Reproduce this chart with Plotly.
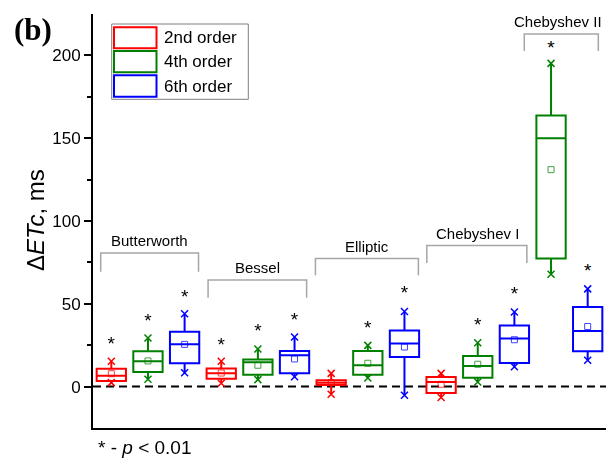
import plotly.graph_objects as go

# ---------------- data ----------------
filters = ["Butterworth", "Bessel", "Elliptic", "Chebyshev I", "Chebyshev II"]
orders = ["2nd order", "4th order", "6th order"]
colors = ["#FF0000", "#008000", "#0000FF"]

# per order, per filter (None = no box)
q1_2 = [3.4, 4.8, 1.0, -3.8, None]
med_2 = [6.6, 8.0, 2.4, 2.8, None]
q3_2 = [10.8, 11.0, 3.8, 5.8, None]
mean_2 = [7.8, 8.2, 2.4, 1.4, None]
min_2 = [2.4, 2.0, -4.6, -6.6, None]
max_2 = [15.3, 15.3, 8.0, 8.0, None]
star_2 = [24.9, 24.3, None, None, None]

q1_4 = [8.8, 7.2, 7.2, 5.4, 77.3]
med_4 = [15.3, 14.7, 12.9, 12.4, 150.0]
q3_4 = [21.3, 16.3, 21.5, 18.5, 163.7]
mean_4 = [15.5, 12.9, 14.1, 13.5, 131.0]
min_4 = [4.4, 4.2, 5.2, 2.8, 67.9]
max_4 = [29.3, 22.7, 24.9, 26.5, 195.2]
star_4 = [38.6, 32.9, 34.9, 36.5, 203.6]

q1_6 = [14.1, 8.0, 17.9, 14.3, 21.3]
med_6 = [25.5, 18.9, 26.1, 29.1, 33.5]
q3_6 = [33.1, 21.5, 33.9, 36.9, 48.0]
mean_6 = [25.5, 16.7, 23.9, 28.3, 36.3]
min_6 = [8.4, 6.0, -5.2, 12.0, 15.9]
max_6 = [44.0, 29.9, 45.4, 45.0, 59.0]
star_6 = [53.6, 39.4, 55.6, 55.0, 69.1]

series = [
    (q1_2, med_2, q3_2, mean_2, min_2, max_2, star_2),
    (q1_4, med_4, q3_4, mean_4, min_4, max_4, star_4),
    (q1_6, med_6, q3_6, mean_6, min_6, max_6, star_6),
]

# bracket annotations
bracket_labels = filters
bracket_x0 = [0.71, 3.64, 6.57, 9.61, 12.27]
bracket_x1 = [3.38, 6.33, 9.38, 12.34, 14.29]
bracket_top = [80.7, 64.3, 77.3, 85.2, 212.9]
bracket_bot = [69.3, 53.6, 67.3, 74.7, 202.6]
label_x = [2.05, 4.99, 7.98, 10.98, 13.2]

# ---------------- positions ----------------
positions = {}
pos = 0
for fi in range(len(filters)):
    for oi in range(len(orders)):
        if series[oi][0][fi] is not None:
            pos += 1
            positions[(oi, fi)] = pos

fig = go.Figure()

star_x, star_y = [], []
for oi, (q1, med, q3, mean, mn, mx, star) in enumerate(series):
    xs, Q1, MED, Q3, LO, HI, MEAN = [], [], [], [], [], [], []
    for fi in range(len(filters)):
        if q1[fi] is None:
            continue
        xs.append(positions[(oi, fi)])
        Q1.append(q1[fi]); MED.append(med[fi]); Q3.append(q3[fi])
        LO.append(mn[fi]); HI.append(mx[fi]); MEAN.append(mean[fi])
        if star[fi] is not None:
            star_x.append(positions[(oi, fi)])
            star_y.append(star[fi])
    c = colors[oi]
    fig.add_trace(go.Box(
        x=xs, q1=Q1, median=MED, q3=Q3, lowerfence=LO, upperfence=HI,
        width=0.8, whiskerwidth=0, line=dict(color=c, width=2),
        fillcolor="rgba(0,0,0,0)", boxpoints=False, name=orders[oi],
        showlegend=False, hoverinfo="skip"))
    fig.add_trace(go.Scatter(
        x=xs, y=MEAN, mode="markers", showlegend=False, hoverinfo="skip",
        marker=dict(symbol="square-open", size=6, color=c, line=dict(width=1, color=c)),
        opacity=0.75))
    fig.add_trace(go.Scatter(
        x=xs + xs, y=LO + HI, mode="markers", showlegend=False, hoverinfo="skip",
        marker=dict(symbol="x-thin", size=7, color=c, line=dict(width=1.5, color=c))))

fig.add_trace(go.Scatter(
    x=star_x, y=star_y, mode="text", text=["*"] * len(star_x),
    textfont=dict(family="Liberation Sans, Arial", size=19, color="black"),
    textposition="middle center", showlegend=False, hoverinfo="skip"))

shapes = []
annotations = []
# zero dashed line
shapes.append(dict(type="line", xref="paper", yref="y", x0=0, x1=1, y0=0, y1=0,
                   line=dict(color="black", width=2, dash="8px,5px"), layer="below"))
# brackets
for lab, x0, x1, t, b, lx in zip(bracket_labels, bracket_x0, bracket_x1,
                                 bracket_top, bracket_bot, label_x):
    shapes.append(dict(type="path", xref="x", yref="y",
                       path=f"M {x0},{b} L {x0},{t} L {x1},{t} L {x1},{b}",
                       line=dict(color="#a6a6a6", width=1.5)))
    annotations.append(dict(x=lx, y=t + 7.5, xref="x", yref="y", text=lab,
                            showarrow=False, yanchor="middle", xanchor="center",
                            font=dict(family="Liberation Sans, Arial", size=15, color="black")))

# pixel->paper helpers
L, R, T, B = 93, 606, 14, 428
def px(x):
    return (x - L) / (R - L)
def py(y):
    return (B - y) / (B - T)

# custom legend
shapes.append(dict(type="rect", xref="paper", yref="paper",
                   x0=px(111.7), x1=px(248.3), y0=py(24), y1=py(99.3),
                   line=dict(color="#7f7f7f", width=1), fillcolor="white"))
rows = [(27.3, 48.3), (51, 72.3), (75.3, 96.7)]
for oi, (ya, yb) in enumerate(rows):
    shapes.append(dict(type="rect", xref="paper", yref="paper",
                       x0=px(114), x1=px(156.5), y0=py(ya), y1=py(yb),
                       line=dict(color=colors[oi], width=2)))
    annotations.append(dict(x=px(162), y=py((ya + yb) / 2), xref="paper", yref="paper",
                            text=orders[oi], showarrow=False, xanchor="left", yanchor="middle",
                            font=dict(family="Liberation Sans, Arial", size=17, color="black")))

# y title
annotations.append(dict(x=px(35), y=py(220), xref="paper", yref="paper",
                        text="Δ<i>ETc</i>, ms", textangle=-90, showarrow=False,
                        xanchor="center", yanchor="middle",
                        font=dict(family="Liberation Sans, Arial", size=24, color="black")))
# panel label
annotations.append(dict(x=px(33), y=py(29), xref="paper", yref="paper",
                        text="<b>(b)</b>", showarrow=False, xanchor="center", yanchor="middle",
                        font=dict(family="Liberation Serif, Times New Roman", size=31, color="black")))
# footnote
annotations.append(dict(x=px(96), y=py(447), xref="paper", yref="paper",
                        text="* - <i>p</i> &lt; 0.01", showarrow=False, xanchor="left", yanchor="middle",
                        font=dict(family="Liberation Sans, Arial", size=19, color="black")))

fig.update_layout(
    width=606, height=458,
    margin=dict(l=L, r=606 - R, t=T, b=458 - B),
    paper_bgcolor="white", plot_bgcolor="white",
    boxmode="overlay",
    showlegend=False,
    shapes=shapes, annotations=annotations,
    xaxis=dict(range=[0.5, 14.5], showline=True, linecolor="black", linewidth=2,
               showticklabels=False, ticks="", showgrid=False, zeroline=False),
    yaxis=dict(range=[-25, 225], showline=True, linecolor="black", linewidth=2,
               tickvals=[0, 50, 100, 150, 200], ticks="outside", ticklen=7, tickwidth=1.5,
               tickcolor="black", showgrid=False, zeroline=False,
               tickfont=dict(family="Liberation Sans, Arial", size=17, color="black"),
               minor=dict(tickvals=[25, 75, 125, 175], ticks="outside", ticklen=4,
                          tickwidth=1.5, tickcolor="black")),
)

fig.write_html("out.html", config={"displayModeBar": False},
               post_script="document.body.style.margin='0px';document.body.style.overflow='hidden';")
